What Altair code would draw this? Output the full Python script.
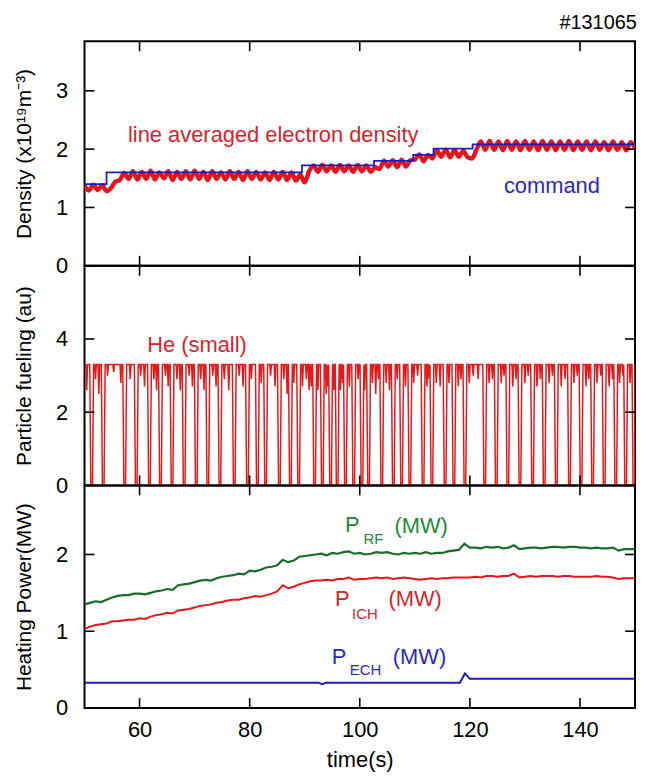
import altair as alt
import pandas as pd

FONT = "Liberation Sans"
W = 554
H1, H2, H3 = 226, 221, 224
X_DOMAIN = [50, 150]

# ---------------- data ----------------
x_ticks = [60, 80, 100, 120, 140]
dens_yticks = [0, 1, 2, 3]
fuel_yticks = [0, 2, 4]
pow_yticks = [0, 1, 2]

# line averaged electron density, sampled every 0.8 s from t = 50 s
dens_t0 = 50.0
dens_dt = 0.8
dens_vals = [
    1.38, 1.29, 1.39, 1.30, 1.38, 1.28, 1.33, 1.44, 1.47, 1.59,
    1.49, 1.62, 1.48, 1.61, 1.49, 1.63, 1.48, 1.60, 1.50, 1.62,
    1.47, 1.61, 1.49, 1.62, 1.48, 1.63, 1.49, 1.61, 1.47, 1.62,
    1.49, 1.60, 1.48, 1.62, 1.49, 1.61, 1.47, 1.62, 1.49, 1.61,
    1.48, 1.60, 1.47, 1.61, 1.48, 1.61, 1.47, 1.60, 1.46, 1.56,
    1.43, 1.62, 1.72, 1.61, 1.73, 1.62, 1.72, 1.61, 1.73, 1.62,
    1.72, 1.61, 1.73, 1.62, 1.72, 1.61, 1.69, 1.66, 1.80, 1.70,
    1.81, 1.69, 1.82, 1.70, 1.81, 1.82, 1.91, 1.79, 1.90, 1.84,
    1.98, 1.87, 1.99, 1.86, 1.98, 1.87, 1.97, 1.86, 1.84, 1.99,
    2.13, 1.99, 2.14, 1.99, 2.13, 1.98, 2.14, 1.99, 2.13, 1.98,
    2.14, 1.99, 2.13, 1.98, 2.14, 1.99, 2.13, 1.98, 2.13, 1.99,
    2.14, 1.98, 2.13, 1.99, 2.13, 1.98, 2.13, 1.99, 2.12, 1.98,
    2.13, 1.99, 2.12, 1.98, 2.12, 2.02,
]

# density command (step function)
cmd_t = [50, 54.0, 89.5, 102.6, 109.7, 113.4, 120.5, 150]
cmd_v = [1.40, 1.60, 1.72, 1.80, 1.90, 2.01, 2.08, 2.08]

# He fueling: flat top with full dips to zero and partial dips
fuel_top = 3.3
full_dip_t = [51.3, 53.4, 57.3, 59.4, 61.8, 63.8, 65.9, 68.1, 70.3, 72.4,
              74.6, 77.2, 79.6, 81.4, 82.9, 85.4, 87.4, 88.9, 91.8, 93.2,
              94.7, 95.9, 97.4, 98.9, 100.4, 101.6, 104.0, 106.1, 107.6, 109.1,
              111.5, 113.1, 115.5, 117.1, 119.1, 122.7, 124.8, 126.9, 129.1, 131.4,
              133.5, 135.7, 138.1, 140.2, 142.3, 144.4, 146.5, 148.3, 149.8]
partial_dip_t = [50.4, 52.0, 52.6, 54.2, 55.3, 56.6, 58.3, 60.2, 60.9, 62.6,
                 63.1, 64.7, 65.2, 66.8, 67.4, 69.0, 69.6, 71.1, 71.7, 73.3,
                 73.9, 75.4, 76.2, 78.1, 78.8, 80.3, 82.1, 83.8, 84.6, 86.2,
                 86.8, 88.0, 89.6, 90.3, 90.8, 91.2, 92.4, 93.9, 94.2, 95.3,
                 96.5, 96.9, 98.1, 99.7, 100.9, 102.3, 102.9, 103.4, 104.8, 105.4,
                 106.8, 108.3, 109.8, 110.5, 112.2, 112.6, 113.9, 114.6, 116.2, 117.9,
                 118.4, 119.9, 120.6, 121.5, 123.5, 124.1, 125.7, 126.2, 127.8, 128.4,
                 130.0, 130.6, 132.2, 132.8, 134.4, 135.0, 136.6, 137.3, 138.9, 139.5,
                 141.1, 141.6, 143.1, 143.8, 145.3, 145.9, 147.2, 147.8, 149.1]
partial_dip_v = [2.6, 2.9, 2.5, 3.0, 3.1, 2.8, 2.9, 3.0, 2.7, 2.9,
                 2.6, 3.0, 2.7, 2.9, 2.6, 3.0, 2.7, 2.9, 2.6, 3.0,
                 2.7, 2.9, 2.6, 3.0, 2.7, 2.9, 2.8, 3.0, 2.7, 2.9,
                 2.5, 2.8, 2.7, 2.9, 2.6, 2.7, 2.6, 2.5, 2.7, 2.6,
                 2.6, 2.8, 2.7, 2.9, 2.6, 2.8, 2.5, 2.9, 2.8, 2.6,
                 2.9, 2.7, 2.8, 3.0, 2.7, 2.9, 2.8, 2.7, 2.8, 2.7,
                 2.9, 2.8, 3.0, 2.9, 2.8, 2.9, 2.8, 3.0, 2.7, 2.9,
                 2.8, 3.0, 2.7, 2.9, 2.8, 3.0, 2.7, 2.9, 2.8, 3.0,
                 2.7, 2.9, 2.8, 3.0, 2.7, 2.9, 2.8, 3.0, 2.8]

# heating power, every 1 s from t = 50 s
pow_t0 = 50.0
pow_dt = 1.0
p_rf = [1.35, 1.37, 1.39, 1.38, 1.41, 1.44, 1.46, 1.47, 1.47, 1.49,
        1.49, 1.48, 1.50, 1.52, 1.53, 1.55, 1.54, 1.60, 1.61, 1.62,
        1.64, 1.66, 1.67, 1.66, 1.69, 1.71, 1.72, 1.73, 1.75, 1.74,
        1.79, 1.78, 1.80, 1.83, 1.84, 1.86, 1.93, 1.90, 1.92, 1.97,
        1.98, 1.99, 2.00, 2.01, 1.99, 2.02, 2.01, 2.03, 2.04, 2.01,
        2.02, 2.00, 2.01, 2.03, 2.02, 2.03, 2.01, 2.00, 2.02, 2.01,
        2.02, 2.01, 2.03, 2.01, 2.02, 2.02, 2.04, 2.05, 2.06, 2.14,
        2.09, 2.09, 2.08, 2.10, 2.09, 2.10, 2.08, 2.09, 2.12, 2.07,
        2.08, 2.09, 2.09, 2.08, 2.09, 2.10, 2.10, 2.09, 2.10, 2.10,
        2.09, 2.09, 2.08, 2.09, 2.08, 2.08, 2.09, 2.05, 2.07, 2.07,
        2.07]
p_ich = [1.03, 1.06, 1.08, 1.09, 1.10, 1.13, 1.13, 1.14, 1.15, 1.15,
         1.17, 1.16, 1.19, 1.21, 1.22, 1.24, 1.23, 1.27, 1.28, 1.29,
         1.31, 1.33, 1.34, 1.35, 1.37, 1.38, 1.40, 1.41, 1.41, 1.43,
         1.44, 1.46, 1.45, 1.47, 1.49, 1.52, 1.60, 1.56, 1.58, 1.61,
         1.63, 1.65, 1.66, 1.66, 1.67, 1.66, 1.68, 1.68, 1.70, 1.67,
         1.68, 1.68, 1.69, 1.70, 1.69, 1.70, 1.68, 1.69, 1.70, 1.69,
         1.68, 1.67, 1.68, 1.69, 1.68, 1.69, 1.69, 1.70, 1.70, 1.70,
         1.70, 1.71, 1.70, 1.72, 1.72, 1.71, 1.72, 1.72, 1.75, 1.70,
         1.71, 1.72, 1.71, 1.72, 1.72, 1.72, 1.71, 1.72, 1.72, 1.71,
         1.71, 1.71, 1.71, 1.72, 1.71, 1.71, 1.70, 1.68, 1.69, 1.69,
         1.69]
p_ech_t = [50, 92.5, 93.2, 93.9, 118.2, 119.1, 120.0, 150]
p_ech_v = [0.33, 0.33, 0.31, 0.33, 0.33, 0.45, 0.38, 0.38]

# ---------------- tables ----------------
dens_df = pd.DataFrame({"t": [dens_t0 + dens_dt * i for i in range(len(dens_vals))],
                        "v": dens_vals})
cmd_df = pd.DataFrame({"t": cmd_t, "v": cmd_v})

pts = [(50.0, fuel_top), (150.0, fuel_top)]
for t in full_dip_t:
    pts += [(t - 0.35, fuel_top), (t - 0.15, 0.0), (t + 0.15, 0.0), (t + 0.35, fuel_top)]
for t, d in zip(partial_dip_t, partial_dip_v):
    pts += [(t - 0.15, fuel_top), (t, d), (t + 0.15, fuel_top)]
pts = sorted(p for p in pts if 50.0 <= p[0] <= 150.0)
fuel_df = pd.DataFrame({"t": [p[0] for p in pts], "v": [p[1] for p in pts],
                        "o": list(range(len(pts)))})

pow_t = [pow_t0 + pow_dt * i for i in range(len(p_rf))]
rf_df = pd.DataFrame({"t": pow_t, "v": p_rf})
ich_df = pd.DataFrame({"t": pow_t, "v": p_ich})
ech_df = pd.DataFrame({"t": p_ech_t, "v": p_ech_v})

RED_TXT = "#d3252b"
BLUE_TXT = "#2a2ab8"
GREEN_TXT = "#23893a"


def xs():
    return alt.Scale(domain=X_DOMAIN, nice=False, zero=False)


def ys(dom):
    return alt.Scale(domain=dom, nice=False, zero=False)


class Panel:
    def __init__(self, dom, yticks, ytitle, H, xaxis):
        self.dom = dom
        self.yticks = yticks
        self.H = H
        self.yaxis = alt.Axis(values=yticks, title=ytitle, ticks=False, domain=False,
                              grid=False, labelPadding=17, titlePadding=21)
        self.xaxis = xaxis

    def X(self):
        return alt.X("t:Q", scale=xs(), axis=self.xaxis,
                     title=None if self.xaxis is None else "time(s)")

    def Y(self):
        return alt.Y("v:Q", scale=ys(self.dom), axis=self.yaxis, title=self.yaxis.title)

    def line(self, df, color, width, interp="linear", order=False):
        enc = dict(x=self.X(), y=self.Y())
        if order:
            enc["order"] = alt.Order("o:Q")
        return alt.Chart(df).mark_line(color=color, strokeWidth=width, interpolate=interp,
                                       clip=True).encode(**enc)

    def text(self, items, color, size, align="left"):
        df = pd.DataFrame(items, columns=["t", "v", "label"])
        return alt.Chart(df).mark_text(align=align, baseline="middle", font=FONT,
                                       fontSize=size, color=color).encode(
            x=self.X(), y=self.Y(), text="label:N")

    def ticks(self):
        xt = pd.DataFrame({"t": x_ticks})
        yt = pd.DataFrame({"v": self.yticks})
        r = dict(color="black", strokeWidth=1.6)
        L = 10
        H = self.H
        return [
            alt.Chart(xt).mark_rule(**r).encode(x=self.X(), y=alt.value(H), y2=alt.value(H - L)),
            alt.Chart(xt).mark_rule(**r).encode(x=self.X(), y=alt.value(0), y2=alt.value(L)),
            alt.Chart(yt).mark_rule(**r).encode(y=self.Y(), x=alt.value(0), x2=alt.value(L)),
            alt.Chart(yt).mark_rule(**r).encode(y=self.Y(), x=alt.value(W - L), x2=alt.value(W)),
        ]


# ---------------- panel 1: density ----------------
P1 = Panel([0, 3.85], dens_yticks, "Density (x10¹⁹m⁻³)", H1, None)
p1 = alt.layer(
    P1.line(dens_df, "#e3141c", 4.4, interp="monotone"),
    P1.line(cmd_df, "#1a1ac8", 1.8, interp="step-after"),
    P1.text([(57.9, 2.24, "line averaged electron density")], RED_TXT, 22),
    P1.text([(134.9, 1.36, "command")], BLUE_TXT, 22, align="center"),
    *P1.ticks(),
).properties(width=W, height=H1)

# ---------------- panel 2: fueling ----------------
P2 = Panel([0, 6], fuel_yticks, "Particle fueling (au)", H2, None)
p2 = alt.layer(
    P2.line(fuel_df, "#e31a1c", 1.5, order=True),
    P2.text([(61.4, 3.84, "He (small)")], RED_TXT, 22),
    *P2.ticks(),
).properties(width=W, height=H2)

# ---------------- panel 3: heating power ----------------
xax = alt.Axis(values=x_ticks, title="time(s)", ticks=False, domain=False, grid=False,
               labelPadding=12, titlePadding=9)
P3 = Panel([0, 2.9], pow_yticks, "Heating Power(MW)", H3, xax)
p3 = alt.layer(
    P3.line(rf_df, "#1b6b2c", 2.2),
    P3.line(ich_df, "#e3161c", 2.0),
    P3.line(ech_df, "#1a1ad0", 2.0),
    P3.text([(97.3, 2.38, "P"), (106.3, 2.37, "(MW)")], GREEN_TXT, 22),
    P3.text([(100.7, 2.20, "RF")], GREEN_TXT, 15),
    P3.text([(95.5, 1.42, "P"), (105.2, 1.42, "(MW)")], RED_TXT, 22),
    P3.text([(98.6, 1.23, "ICH")], RED_TXT, 15),
    P3.text([(94.9, 0.67, "P"), (106.0, 0.67, "(MW)")], BLUE_TXT, 22),
    P3.text([(98.2, 0.49, "ECH")], BLUE_TXT, 15),
    *P3.ticks(),
).properties(width=W, height=H3)

chart = alt.vconcat(p1, p2, p3, spacing=0, bounds="flush").properties(
    title=alt.TitleParams(text="#131065", anchor="end", fontSize=20, font=FONT,
                          fontWeight="normal", color="black", offset=7),
    padding={"left": 4, "top": 2, "right": 0, "bottom": 0},
).configure_axis(
    labelFont=FONT, titleFont=FONT, labelFontSize=22, titleFontSize=21,
    titleFontWeight="normal", labelColor="black", titleColor="black",
).configure_axisX(titleFontSize=22).configure_view(stroke="black", strokeWidth=2)

chart.save("out.html", embed_options={"renderer": "svg", "actions": False})
